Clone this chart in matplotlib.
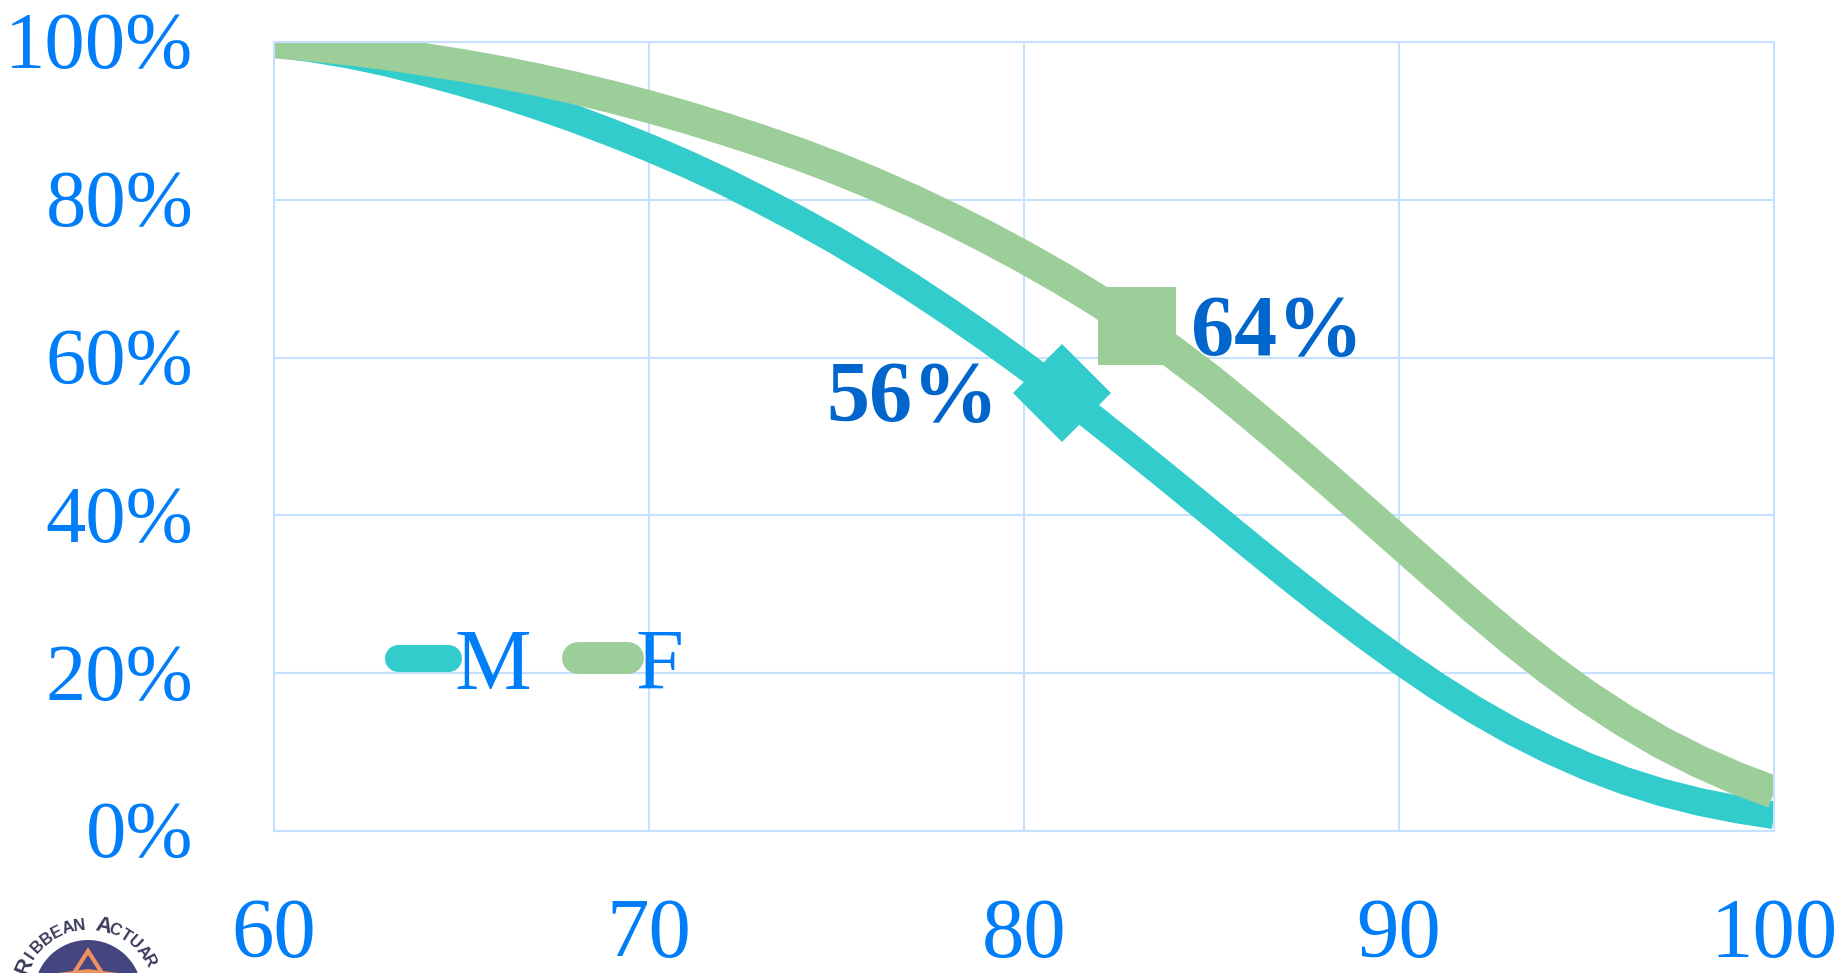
import numpy as np
import matplotlib
matplotlib.use("Agg")
import matplotlib.pyplot as plt
from matplotlib.lines import Line2D
from matplotlib.patches import Circle, Polygon
from matplotlib.transforms import ScaledTranslation

ages = list(range(60, 101))
male = [99.8, 99.2, 98.4, 97.4, 96.2, 94.9, 93.5, 91.95, 90.3, 88.5,
        86.6, 84.55, 82.35, 79.95, 77.45, 74.8, 71.95, 68.95, 65.8, 62.5,
        59.05, 55.5, 51.75, 47.95, 44.1, 40.2, 36.3, 32.45, 28.7, 25.1,
        21.65, 18.4, 15.4, 12.7, 10.3, 8.2, 6.4, 4.9, 3.7, 2.75, 2.0]
female = [100, 99.6, 99.1, 98.5, 97.8, 97.05, 96.2, 95.25, 94.2, 93.05,
          91.8, 90.45, 89.0, 87.45, 85.8, 84.0, 82.05, 79.95, 77.7, 75.3,
          72.75, 70.05, 67.15, 64.0, 60.6, 57.0, 53.1, 49.1, 45.0, 40.85,
          36.65, 32.45, 28.3, 24.3, 20.55, 17.1, 14.0, 11.2, 8.8, 6.7, 4.9]
mark_age_m, mark_val_m = 81, 55.5
mark_age_f, mark_val_f = 83, 64
xticks = [60, 70, 80, 90, 100]
yticks = [0, 20, 40, 60, 80, 100]

BLUE = "#007DF8"
DARK = "#0066CC"
GRID = "#C6E1FF"
TEAL = "#33CCCC"
GREEN = "#9CCE9A"
W, H = 1845, 973

plt.rcParams["font.family"] = ["Liberation Serif", "DejaVu Serif"]
fig = plt.figure(figsize=(W / 100, H / 100), dpi=100)
ax = fig.add_axes([274 / W, 1 - 831 / H, 1500 / W, 789 / H])
ax.set_xlim(60, 100)
ax.set_ylim(0, 100)
ax.grid(True, color=GRID, lw=1.5)
ax.set_axisbelow(True)
for s in ax.spines.values():
    s.set_color(GRID)
    s.set_linewidth(1.5)
ax.set_xticks(xticks)
ax.set_yticks(yticks)
ax.set_yticklabels([f"{v}%" for v in yticks])
ax.tick_params(length=0, labelcolor=BLUE)
ax.tick_params(axis="x", pad=48.5, labelsize=61)
ax.tick_params(axis="y", pad=58, labelsize=58)
for lab in ax.get_yticklabels():
    lab.set_transform(lab.get_transform() + ScaledTranslation(0, 1.8 / 100, fig.dpi_scale_trans))

ax.plot(ages, male, color=TEAL, lw=20, solid_capstyle="butt", solid_joinstyle="round")
ax.plot([mark_age_m], [mark_val_m], "D", color=TEAL, ms=50, mew=0)
ax.plot(ages, female, color=GREEN, lw=23.5, solid_capstyle="butt", solid_joinstyle="round")
ax.plot([mark_age_f], [mark_val_f], "s", color=GREEN, ms=56.5, mew=0)

ax.annotate("64%", (mark_age_f, mark_val_f), xytext=(39, -6), textcoords="offset points",
            color=DARK, fontsize=62, fontweight="bold", ha="left", va="center")
ax.annotate("56%", (mark_age_m, mark_val_m), xytext=(-45, -5), textcoords="offset points",
            color=DARK, fontsize=62, fontweight="bold", ha="right", va="center")

handles = [
    Line2D([0], [0], color=TEAL, lw=19.5, solid_capstyle="round"),
    Line2D([0], [0], color=GREEN, lw=23, solid_capstyle="round"),
]
leg = ax.legend(handles, ["M", "F"], ncol=2, frameon=False, loc="lower left",
                bbox_to_anchor=(0.0826, 0.1565), fontsize=62, labelcolor=BLUE,
                handlelength=0.58, handletextpad=0.08, columnspacing=0.546,
                borderpad=0, borderaxespad=0)

# cropped logo at the lower left, in pixel coordinates of the figure
lg = fig.add_axes([0, 0, 1, 1], zorder=-1)
lg.set_xlim(0, W)
lg.set_ylim(H, 0)
lg.axis("off")
cx, cy, r = 88, 994, 54
lg.add_patch(Circle((cx, cy), r, color="#45457F", lw=0))
lg.add_patch(Polygon([[cx - 14, 973], [cx, 951], [cx + 14, 973]], closed=True, fill=False,
                     edgecolor="#EE9060", lw=3))
lg.add_patch(Polygon([[cx - 30, 973], [cx + 30, 973], [cx, 969]], closed=True, color="#EE9060", lw=0))
arc = "RIBBEAN ACTUAR"
angles = np.linspace(-66, 62, len(arc))
sizes = [16, 12, 12, 12, 12, 12, 12, 12, 16, 12, 12, 12, 12, 12]
for ch, a, fs in zip(arc, angles, sizes):
    t = np.deg2rad(a)
    lg.text(cx + 69 * np.sin(t), cy - 69 * np.cos(t), ch, rotation=-a, ha="center", va="center",
            fontsize=fs, color="#3A3A5A", fontweight="bold", family=["Liberation Sans"], clip_on=True)

fig.savefig("out.png", dpi=100)
